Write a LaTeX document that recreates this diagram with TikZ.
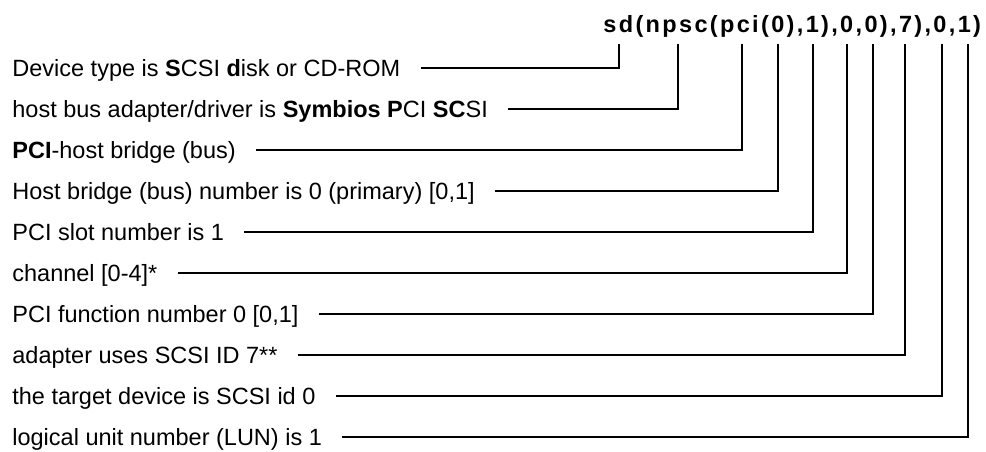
\documentclass[tikz,border=0pt]{standalone}
\usepackage{fontspec}
\setmainfont{Liberation Sans}
\newfontfamily\pathfont[LetterSpace=10]{Liberation Sans}

\begin{document}
\begin{tikzpicture}[x=0.5pt, y=-0.5pt,
    font=\fontsize{11.75}{14}\selectfont,
    lbl/.style={anchor=west, inner sep=0pt, text height=0.86em, text depth=0pt},
    conn/.style={black, line width=0.9pt}]
    \useasboundingbox (0,0) rectangle (986,451);
    % device path
    \node[anchor=base west, inner sep=0pt, font=\fontsize{11.75}{14}\pathfont\bfseries] (path) at (603,32) {sd(npsc(pci(0),1),0,0),7),0,1)};
    \coordinate (t1) at (619,44);
    \coordinate (t2) at (678,44);
    \coordinate (t3) at (742,44);
    \coordinate (t4) at (778,44);
    \coordinate (t5) at (813,44);
    \coordinate (t6) at (847,44);
    \coordinate (t7) at (873,44);
    \coordinate (t8) at (905,44);
    \coordinate (t9) at (942,44);
    \coordinate (t10) at (968,44);
    % labels
    \node[lbl] (l1) at (12,68) {Device type is \textbf{S}CSI \textbf{d}isk or CD-ROM};
    \node[lbl] (l2) at (12,109) {host bus adapter/driver is \textbf{Symbios P}CI \textbf{SC}SI};
    \node[lbl] (l3) at (12,150) {\textbf{PCI}-host bridge (bus)};
    \node[lbl] (l4) at (12,191) {Host bridge (bus) number is 0 (primary) [0,1]};
    \node[lbl] (l5) at (12,232) {PCI slot number is 1};
    \node[lbl] (l6) at (12,273) {channel [0-4]*};
    \node[lbl] (l7) at (12,314) {PCI function number 0 [0,1]};
    \node[lbl] (l8) at (12,355) {adapter uses SCSI ID 7**};
    \node[lbl] (l9) at (12,396) {the target device is SCSI id 0};
    \node[lbl] (l10) at (12,437) {logical unit number (LUN) is 1};
    % connectors
    \draw[conn] ([xshift=10pt]l1.east) -| (t1);
    \draw[conn] ([xshift=10pt]l2.east) -| (t2);
    \draw[conn] ([xshift=10pt]l3.east) -| (t3);
    \draw[conn] ([xshift=10pt]l4.east) -| (t4);
    \draw[conn] ([xshift=10pt]l5.east) -| (t5);
    \draw[conn] ([xshift=10pt]l6.east) -| (t6);
    \draw[conn] ([xshift=10pt]l7.east) -| (t7);
    \draw[conn] ([xshift=10pt]l8.east) -| (t8);
    \draw[conn] ([xshift=10pt]l9.east) -| (t9);
    \draw[conn] ([xshift=10pt]l10.east) -| (t10);
\end{tikzpicture}
\end{document}
